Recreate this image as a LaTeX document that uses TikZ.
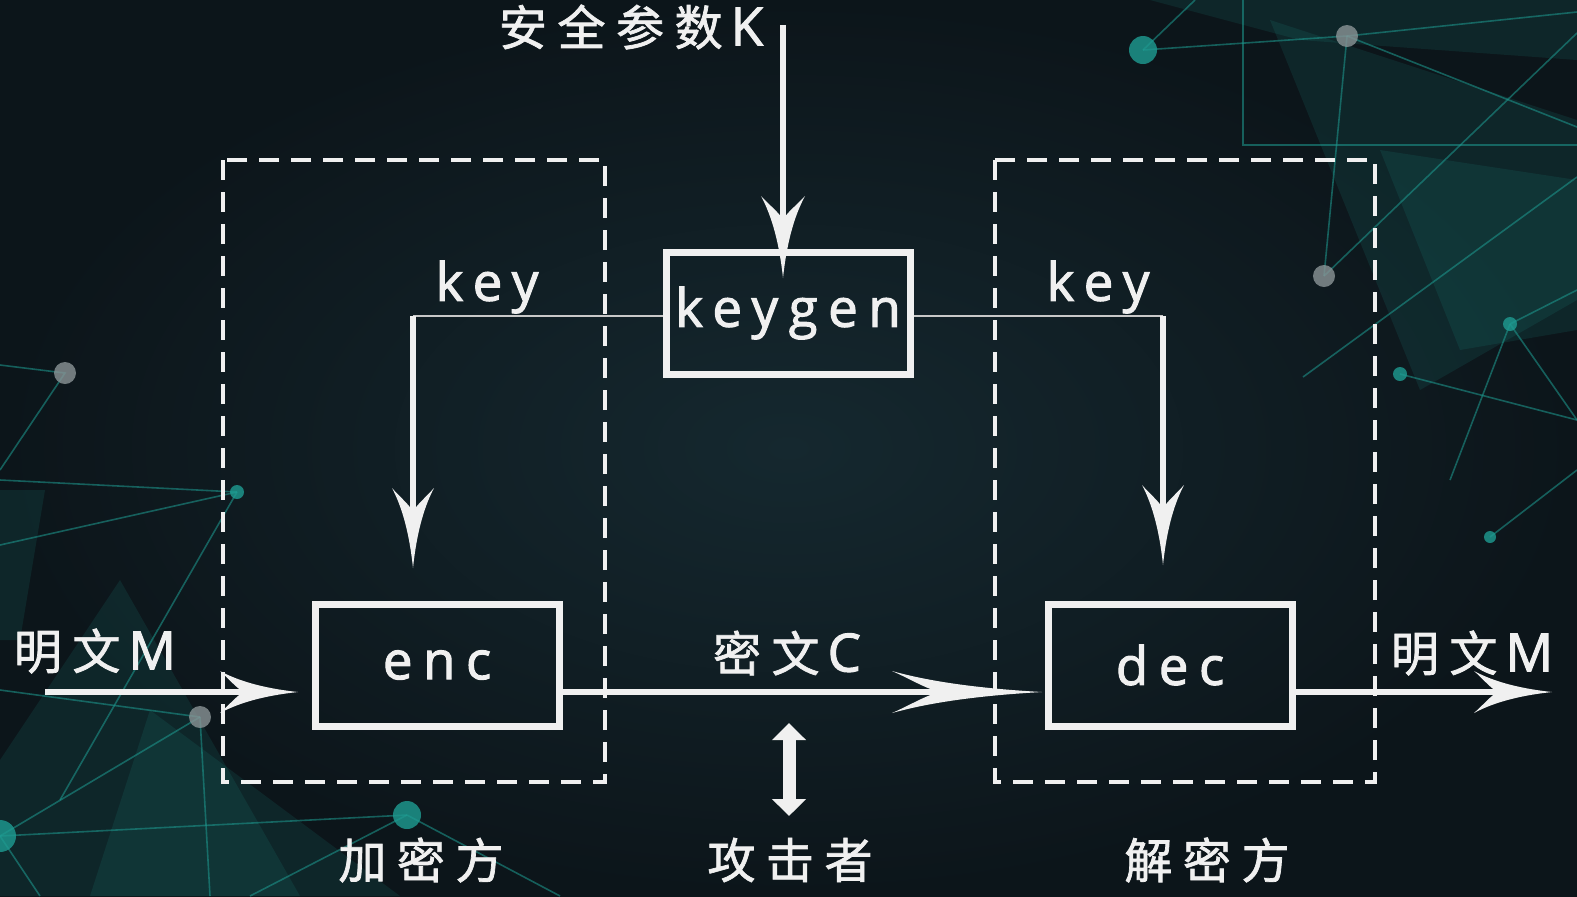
\documentclass[tikz,border=0pt]{standalone}
\usepackage{fontspec}
\setmainfont{Open Sans}[Scale=1.1,LetterSpace=20,FakeBold=2]
\newfontfamily\cjk{Noto Sans CJK SC}[LetterSpace=22,FakeBold=1.5]
\usetikzlibrary{arrows.meta}

\pgfdeclarearrow{
  name = Barb,
  parameters = {\the\pgfarrowlength,\the\pgfarrowwidth,\the\pgfarrowinset},
  setup code = {
    \pgfarrowssettipend{\pgfarrowlength}
    \pgfarrowssetbackend{0pt}
    \pgfarrowssetlineend{1.2\pgfarrowinset}
    \pgfarrowssavethe\pgfarrowlength
    \pgfarrowssavethe\pgfarrowwidth
    \pgfarrowssavethe\pgfarrowinset
  },
  drawing code = {
    \pgfpathmoveto{\pgfqpoint{\pgfarrowlength}{0pt}}
    \pgfpathcurveto{\pgfqpoint{0.5\pgfarrowlength}{0.1\pgfarrowwidth}}{\pgfqpoint{0.2\pgfarrowlength}{0.3\pgfarrowwidth}}{\pgfqpoint{0pt}{0.5\pgfarrowwidth}}
    \pgfpathcurveto{\pgfqpoint{0.4\pgfarrowinset}{0.3\pgfarrowwidth}}{\pgfqpoint{0.7\pgfarrowinset}{0.08\pgfarrowwidth}}{\pgfqpoint{\pgfarrowinset}{0pt}}
    \pgfpathcurveto{\pgfqpoint{0.7\pgfarrowinset}{-0.08\pgfarrowwidth}}{\pgfqpoint{0.4\pgfarrowinset}{-0.3\pgfarrowwidth}}{\pgfqpoint{0pt}{-0.5\pgfarrowwidth}}
    \pgfpathcurveto{\pgfqpoint{0.2\pgfarrowlength}{-0.3\pgfarrowwidth}}{\pgfqpoint{0.5\pgfarrowlength}{-0.1\pgfarrowwidth}}{\pgfqpoint{\pgfarrowlength}{0pt}}
    \pgfpathclose
    \pgfusepathqfill
  },
  defaults = {length=20pt, width=10pt, inset=6pt}
}

\definecolor{bgin}{HTML}{15282F}
\definecolor{bgout}{HTML}{0C151A}
\definecolor{fg}{HTML}{F0F0F0}
\definecolor{thinln}{HTML}{C8C8C8}
\definecolor{teal}{HTML}{1E9C92}
\definecolor{dotgrey}{HTML}{8A9496}

\newcommand\latgap[1]{\hspace{4pt}{\rmfamily #1}}

\tikzset{
  lbl/.style={text=fg, font=\fontsize{24}{28}\selectfont\cjk, inner sep=0pt},
  boxnode/.style={draw=fg, line width=3.5pt, minimum width=122pt, minimum height=61pt,
    text=fg, font=\fontsize{24}{28}\selectfont, inner sep=0pt},
  party/.style={draw=fg, line width=2pt, dash pattern=on 10pt off 6pt},
  bigarrow/.style={draw=fg, fill=fg, line width=3pt},
  keyline/.style={draw=thinln, line width=1pt},
  net/.style={draw=teal, line width=0.8pt, opacity=0.55},
  netfill/.style={fill=teal, opacity=0.13},
  tealdot/.style={fill=teal, opacity=0.8},
  greydot/.style={fill=dotgrey, opacity=0.8}
}

\begin{document}
\begin{tikzpicture}[x=0.5pt, y=-0.5pt]
\useasboundingbox (0,0) rectangle (1577,896);
\shade[inner color=bgin, outer color=bgout] (0,0) rectangle (1577,896);

% decorative network, top right
\fill[netfill] (1270,20) -- (1420,390) -- (1577,300) -- (1577,120) -- cycle;
\fill[netfill] (1150,0) -- (1577,0) -- (1577,60) -- (1300,40) -- cycle;
\fill[netfill] (1380,150) -- (1460,350) -- (1577,330) -- (1577,180) -- cycle;
\draw[net] (1143,50) -- (1347,36) -- (1577,12);
\draw[net] (1143,50) -- (1195,0);
\draw[net] (1347,36) -- (1324,276);
\draw[net] (1347,36) -- (1577,127);
\draw[net] (1243,0) -- (1243,145) -- (1577,145);
\draw[net] (1324,276) -- (1577,33);
\draw[net] (1303,377) -- (1577,177);
\draw[net] (1510,324) -- (1577,290);
\draw[net] (1510,324) -- (1577,420);
\draw[net] (1510,324) -- (1450,480);
\draw[net] (1400,374) -- (1577,420);
\draw[net] (1490,537) -- (1577,470);
\fill[tealdot] (1143,50) circle (14);
\fill[greydot] (1347,36) circle (11);
\fill[greydot] (1324,276) circle (11);
\fill[tealdot] (1510,324) circle (7);
\fill[tealdot] (1400,374) circle (7);
\fill[tealdot] (1490,537) circle (6);

% decorative network, bottom left
\fill[netfill] (0,490) -- (45,490) -- (20,640) -- (0,640) -- cycle;
\fill[netfill] (120,580) -- (300,896) -- (0,896) -- (0,760) -- cycle;
\fill[netfill] (150,710) -- (400,896) -- (90,896) -- cycle;
\draw[net] (0,365) -- (65,373) -- (0,470);
\draw[net] (237,492) -- (0,480);
\draw[net] (237,492) -- (0,545);
\draw[net] (237,492) -- (60,800);
\draw[net] (200,717) -- (0,690);
\draw[net] (200,717) -- (0,836);
\draw[net] (200,717) -- (210,896);
\draw[net] (0,836) -- (407,815);
\draw[net] (407,815) -- (560,896);
\draw[net] (407,815) -- (250,896);
\draw[net] (0,836) -- (40,896);
\fill[greydot] (65,373) circle (11);
\fill[tealdot] (237,492) circle (7);
\fill[greydot] (200,717) circle (11);
\fill[tealdot] (0,836) circle (16);
\fill[tealdot] (407,815) circle (14);

% party boxes
\draw[party] (223,160) rectangle (605,782);
\draw[party] (995,160) rectangle (1375,782);

% main nodes
\node[boxnode] (keygen) at (788,313) {keygen};
\node[boxnode] (enc) at (437,665) {enc};
\node[boxnode] (dec) at (1170,665) {dec};

% labels
\node[lbl] (secK) at (631,27) {安全参数\latgap{K}};
\node[lbl] (keyL) at (487,287) {\rmfamily key};
\node[lbl] (keyR) at (1098,287) {\rmfamily key};
\node[lbl] (mL) at (95,651) {明文\latgap{M}};
\node[lbl] (cT) at (787,653) {密文\latgap{C}};
\node[lbl] (mR) at (1472,653) {明文\latgap{M}};
\node[lbl] (encP) at (421,860) {加密方};
\node[lbl] (atk) at (790,860) {攻击者};
\node[lbl] (decP) at (1207,860) {解密方};

% coordinates
\coordinate (kTop) at (783,25);
\coordinate (kTip) at (783,278);
\coordinate (kL) at (413,316);
\coordinate (kLtip) at (413,568);
\coordinate (kR) at (1163,316);
\coordinate (kRtip) at (1163,565);
\coordinate (inS) at (45,692);
\coordinate (inT) at (298,692);
\coordinate (cS) at (562,692);
\coordinate (cTip) at (1042,692);
\coordinate (oS) at (1295,692);
\coordinate (oT) at (1552,692);
\coordinate (aTop) at (789,723);
\coordinate (aBot) at (789,816);

% connectors
\draw[bigarrow, -{Barb[length=41pt,width=22pt,inset=12pt]}] (kTop) -- (kTip);
\draw[keyline] (keygen.west |- kL) -- (kL);
\draw[keyline] (keygen.east |- kR) -- (kR);
\draw[bigarrow, -{Barb[length=40pt,width=21pt,inset=12pt]}] (kL) -- (kLtip);
\draw[bigarrow, -{Barb[length=40pt,width=21pt,inset=12pt]}] (kR) -- (kRtip);
\draw[bigarrow, -{Barb[length=39pt,width=21pt,inset=12pt]}] (inS) -- (inT);
\draw[bigarrow, -{Barb[length=75pt,width=21pt,inset=24pt]}] (cS) -- (cTip);
\draw[bigarrow, -{Barb[length=39pt,width=21pt,inset=12pt]}] (oS) -- (oT);
\draw[draw=fg, line width=6.5pt, {Triangle[length=8.5pt,width=16.5pt]}-{Triangle[length=8.5pt,width=16.5pt]}] (aTop) -- (aBot);
\end{tikzpicture}
\end{document}
